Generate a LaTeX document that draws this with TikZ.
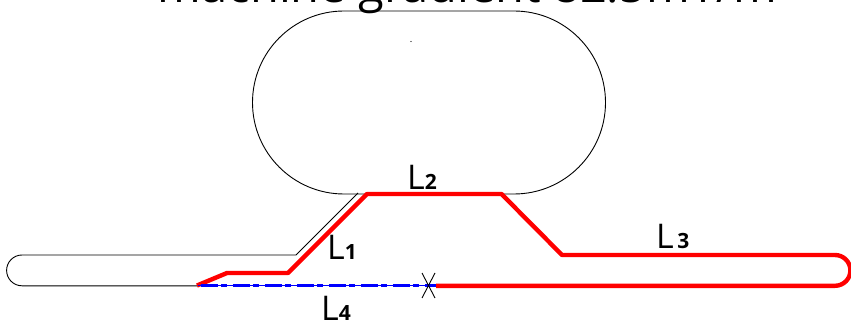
\documentclass[tikz,border=0pt]{standalone}
\usepackage{fontspec}
\setmainfont{Open Sans}
\newcommand{\Lname}[1]{\fontsize{34pt}{34pt}\selectfont L\fontsize{21pt}{21pt}\selectfont\bfseries #1}
\tikzset{
  ring/.style={draw=black,line width=0.9pt},
  beam/.style={draw=red,line width=4.4pt,line join=round},
  probeline/.style={draw=blue,line width=1.2pt},
  probe/.style={draw=blue,line width=3.6pt,dash pattern=on 17pt off 3pt on 6pt off 6pt},
  tag/.style={inner sep=0pt,anchor=base west},
}
\begin{document}
\begin{tikzpicture}[x=1pt,y=-1pt]
\useasboundingbox (0,0) rectangle (851,323);
\clip (0,0) rectangle (851,323);
\node[anchor=base,font=\fontsize{47pt}{47pt}\selectfont,inner sep=0pt] (title) at (467.5,3) {machine gradient 82.5mT/m};
% ring
\draw[ring] (368,194) -- (344,194) arc[start angle=90,end angle=270,radius=91.5] -- (514,11)
  arc[start angle=-90,end angle=90,radius=91.5] -- (500,194);
\fill (411,41.5) circle[radius=0.7];
% injection line
\draw[ring] (358,193) -- (296,255) -- (22,255) arc[start angle=-90,end angle=-270,radius=15.4] -- (198,285.8);
% red orbit
\draw[beam] (197,285.5) -- (227,273) -- (288,273) -- (367,194) -- (501.5,194) -- (562,255)
  -- (835,255) arc[start angle=-90,end angle=90,radius=15.4] -- (436,285.8);
\draw[probeline] (198,285.5) -- (436,285.5);
\draw[probe] (201,285.5) -- (436,285.5);
\coordinate (cutA) at (422,273);
\coordinate (cutB) at (435,298);
\coordinate (cutC) at (435,273);
\coordinate (cutD) at (422,298);
\draw[ring] (cutA) -- (cutB);
\draw[ring] (cutC) -- (cutD);
\node[tag] (lone) at (327,259) {\Lname{1}};
\node[tag] (ltwo) at (407,190) {\Lname{2}};
\node[tag] (lthree) at (656,248) {\Lname{\,3}};
\node[tag] (lfour) at (321,320) {\Lname{4}};
\end{tikzpicture}
\end{document}
